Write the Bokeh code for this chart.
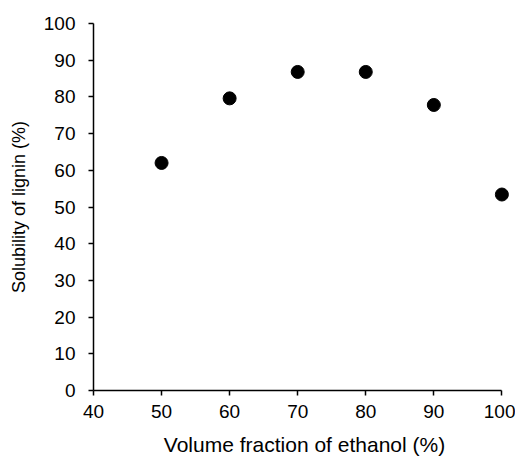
from bokeh.plotting import figure
from bokeh.models import Range1d, FixedTicker
from bokeh.embed import file_html
from bokeh.resources import INLINE

ethanol = [50, 60, 70, 80, 90, 100]
solubility = [62.0, 79.6, 86.8, 86.8, 77.8, 53.4]
x_ticks = [40, 50, 60, 70, 80, 90, 100]
y_ticks = [0, 10, 20, 30, 40, 50, 60, 70, 80, 90, 100]

FONT = "Liberation Sans"

p = figure(width=515, height=459, output_backend="svg", toolbar_location=None,
           x_range=Range1d(40, 102), y_range=Range1d(0, 100),
           min_border_left=93, min_border_right=0, min_border_top=23, min_border_bottom=69)
p.outline_line_color = None
p.xgrid.grid_line_color = None
p.ygrid.grid_line_color = None

p.scatter(ethanol, solubility, size=13, color="black")

for ax, ticks in ((p.xaxis, x_ticks), (p.yaxis, y_ticks)):
    ax.ticker = FixedTicker(ticks=ticks)
    ax.bounds = (ticks[0], ticks[-1])
    ax.axis_line_width = 1.5
    ax.axis_line_color = "black"
    ax.major_tick_line_color = "black"
    ax.major_tick_line_width = 1.5
    ax.major_tick_in = 0
    ax.major_tick_out = 5
    ax.minor_tick_line_color = None
    ax.major_label_text_font = FONT
    ax.major_label_text_font_size = "19px"
    ax.major_label_text_color = "black"
    ax.axis_label_text_font = FONT
    ax.axis_label_text_font_style = "normal"
    ax.axis_label_text_color = "black"

p.xaxis.major_label_standoff = 9
p.xaxis.axis_label_text_font_size = "21px"
p.xaxis.axis_label_standoff = 12
p.yaxis.major_label_standoff = 13
p.yaxis.axis_label_text_font_size = "18px"
p.yaxis.axis_label_standoff = 12

p.xaxis.axis_label = "Volume fraction of ethanol (%)"
p.yaxis.axis_label = "Solubility of lignin (%)"

open("out.html", "w").write(file_html(p, INLINE))
